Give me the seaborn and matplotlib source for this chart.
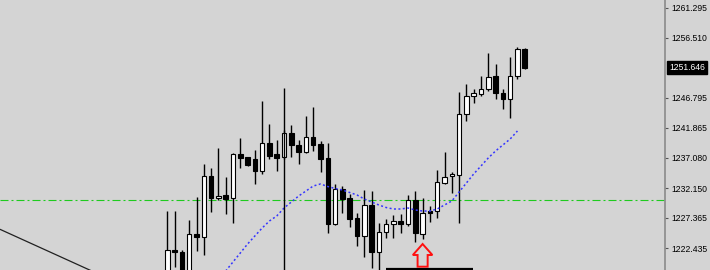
import numpy as np
import pandas as pd
import matplotlib
matplotlib.use("Agg")
import matplotlib.pyplot as plt
from matplotlib.patches import Polygon
import seaborn as sns

# ---------------- data ----------------
candle_index = list(range(50))
open_ = [1217.25, 1222.11, 1221.74, 1217.25, 1224.70, 1224.26, 1234.14, 1230.45, 1231.06, 1230.45,
         1237.65, 1237.12, 1236.80, 1234.95, 1239.39, 1237.65, 1237.12, 1241.10, 1239.11, 1237.93,
         1240.46, 1239.22, 1236.96, 1226.32, 1231.99, 1230.53, 1227.24, 1224.43, 1229.40, 1221.74,
         1224.98, 1226.29, 1226.81, 1226.27, 1230.21, 1224.70, 1228.38, 1228.47, 1233.04, 1234.04,
         1234.25, 1244.13, 1247.09, 1247.37, 1248.13, 1250.33, 1247.58, 1246.51, 1250.33, 1254.70]
high = [1228.47, 1228.42, 1222.11, 1226.97, 1230.69, 1235.99, 1235.34, 1238.63, 1233.88, 1237.74,
        1240.20, 1237.25, 1238.30, 1246.24, 1242.51, 1239.92, 1241.54, 1242.30, 1239.92, 1243.81,
        1245.22, 1239.76, 1239.39, 1232.80, 1232.47, 1231.18, 1228.05, 1231.83, 1231.71, 1226.43,
        1227.05, 1227.78, 1227.91, 1231.02, 1231.66, 1230.48, 1229.23, 1235.06, 1237.93, 1234.79,
        1247.64, 1248.94, 1248.18, 1250.28, 1253.96, 1252.18, 1248.13, 1253.31, 1255.03, 1254.82]
low = [1216.44, 1219.41, 1216.44, 1216.44, 1222.03, 1221.30, 1228.21, 1230.21, 1227.91, 1226.43,
       1235.34, 1235.71, 1232.75, 1234.42, 1236.80, 1234.95, 1236.84, 1237.12, 1235.99, 1237.85,
       1238.19, 1234.79, 1224.81, 1226.24, 1228.05, 1225.83, 1222.76, 1221.03, 1219.15, 1218.55,
       1224.09, 1224.00, 1224.81, 1226.00, 1223.36, 1223.89, 1226.64, 1227.24, 1232.80, 1231.29,
       1226.43, 1243.05, 1245.86, 1247.09, 1247.86, 1246.51, 1244.99, 1243.53, 1249.75, 1251.42]
close = [1222.11, 1221.74, 1217.25, 1224.70, 1224.26, 1234.14, 1230.45, 1230.90, 1230.42, 1237.65,
         1237.05, 1235.82, 1234.95, 1239.39, 1237.33, 1237.01, 1241.10, 1239.11, 1237.93, 1240.46,
         1239.11, 1236.84, 1226.32, 1231.99, 1230.37, 1227.16, 1224.43, 1229.40, 1221.74, 1225.02,
         1226.29, 1226.81, 1226.32, 1230.21, 1224.81, 1228.05, 1228.05, 1233.07, 1233.98, 1234.45,
         1244.13, 1247.09, 1247.48, 1248.13, 1250.17, 1247.48, 1246.51, 1250.33, 1254.70, 1251.646]

ma_index = list(range(8, 49))
ma_value = [1218.71, 1220.17, 1221.62, 1223.08, 1224.38, 1225.67, 1226.81, 1227.62, 1228.91, 1229.88,
            1230.85, 1231.66, 1232.47, 1232.80, 1232.39, 1232.07, 1231.83, 1231.42, 1231.02, 1230.37,
            1229.88, 1229.40, 1228.99, 1228.75, 1228.75, 1228.91, 1228.59, 1228.42, 1228.42, 1228.75,
            1229.40, 1230.04, 1231.50, 1232.96, 1234.42, 1235.71, 1237.01, 1238.14, 1239.11, 1240.08,
            1241.38]

tick_values = [1261.295, 1256.510, 1246.795, 1241.865, 1237.080, 1232.150, 1227.365, 1222.435]
tick_labels = ["1261.295", "1256.510", "1246.795", "1241.865", "1237.080", "1232.150", "1227.365", "1222.435"]
current_price = 1251.646
current_label = "1251.646"

hline_level = 1230.18
vline_index = 16
vline_top = 1248.29
trend_index = [-22.94, -7.85]
trend_price = [1225.46, 1217.37]
base_index = [30.0, 41.97]
base_price = 1219.03
arrow_index = 35
arrow_tip = 1223.08
arrow_head_base = 1221.30
arrow_bottom = 1219.41

df = pd.DataFrame({"i": candle_index, "open": open_, "high": high, "low": low, "close": close})
ma_df = pd.DataFrame({"i": ma_index, "ma": ma_value})

# ---------------- style ----------------
sns.set_theme(style="white")
plt.rcParams["font.family"] = ["Liberation Sans", "DejaVu Sans"]
BG = "#d4d4d4"

fig = plt.figure(figsize=(7.1, 2.7), dpi=100, facecolor=BG)
ax = fig.add_axes([0, 0, 665 / 710, 1])
ax.set_facecolor(BG)

ax.set_xlim(-22.94, 68.23)
ax.set_ylim(1218.873, 1262.590)

# horizontal level line
ax.axhline(hline_level, color="#1ecb1e", lw=0.8, ls=(0, (7.2, 2.7, 1.8, 2.7)), zorder=1)

# candles
up = df["close"] >= df["open"]
ax.vlines(df["i"], df["low"], df["high"], color="black", lw=1.0, zorder=2)
body_h = (df["close"] - df["open"]).abs().clip(lower=0.12)
body_b = df[["open", "close"]].min(axis=1)
ax.bar(df["i"][up], body_h[up], bottom=body_b[up], width=0.62,
       color="white", edgecolor="black", linewidth=0.8, zorder=3)
ax.bar(df["i"][~up], body_h[~up], bottom=body_b[~up], width=0.62,
       color="black", edgecolor="black", linewidth=0.8, zorder=3)

# moving average
sns.lineplot(data=ma_df, x="i", y="ma", ax=ax, color="#3535ff", lw=1.1,
             linestyle=(0, (1.3, 1.6)), zorder=4)

# vertical line, trend line, base line
ax.vlines(vline_index, 1210, vline_top, color="black", lw=1.0, zorder=5)
ax.plot(trend_index, trend_price, color="#202020", lw=0.9, zorder=5)
ax.hlines(base_price, base_index[0], base_index[1], color="black", lw=1.6, zorder=5)

# red arrow (anchor from data, shape offsets in index units)
hw, sw = 1.34, 0.69
arrow = Polygon([(arrow_index, arrow_tip),
                 (arrow_index + hw, arrow_head_base),
                 (arrow_index + sw, arrow_head_base),
                 (arrow_index + sw, arrow_bottom),
                 (arrow_index - sw, arrow_bottom),
                 (arrow_index - sw, arrow_head_base),
                 (arrow_index - hw, arrow_head_base)],
                closed=True, facecolor=BG, edgecolor="#ff1010", lw=1.4, zorder=6)
ax.add_patch(arrow)

# axes / ticks
ax.set_xlabel("")
ax.set_ylabel("")
ax.set_xticks([])
ax.yaxis.tick_right()
ax.set_yticks(tick_values)
ax.set_yticklabels(tick_labels)
ax.tick_params(axis="y", direction="out", length=2.5, width=0.8, color="#555555",
               pad=2, labelsize=6.2, labelcolor="black")
for s in ["top", "bottom", "left"]:
    ax.spines[s].set_visible(False)
ax.spines["right"].set_color("#8a8a8a")
ax.spines["right"].set_linewidth(1.2)

ax.text(1.0 + 4 / 665, current_price, current_label, transform=ax.get_yaxis_transform(),
        ha="left", va="center", fontsize=6.2, color="white", clip_on=False,
        bbox=dict(boxstyle="square,pad=0.2", facecolor="black", edgecolor="black"))

fig.savefig("out.png", dpi=100, facecolor=BG)
